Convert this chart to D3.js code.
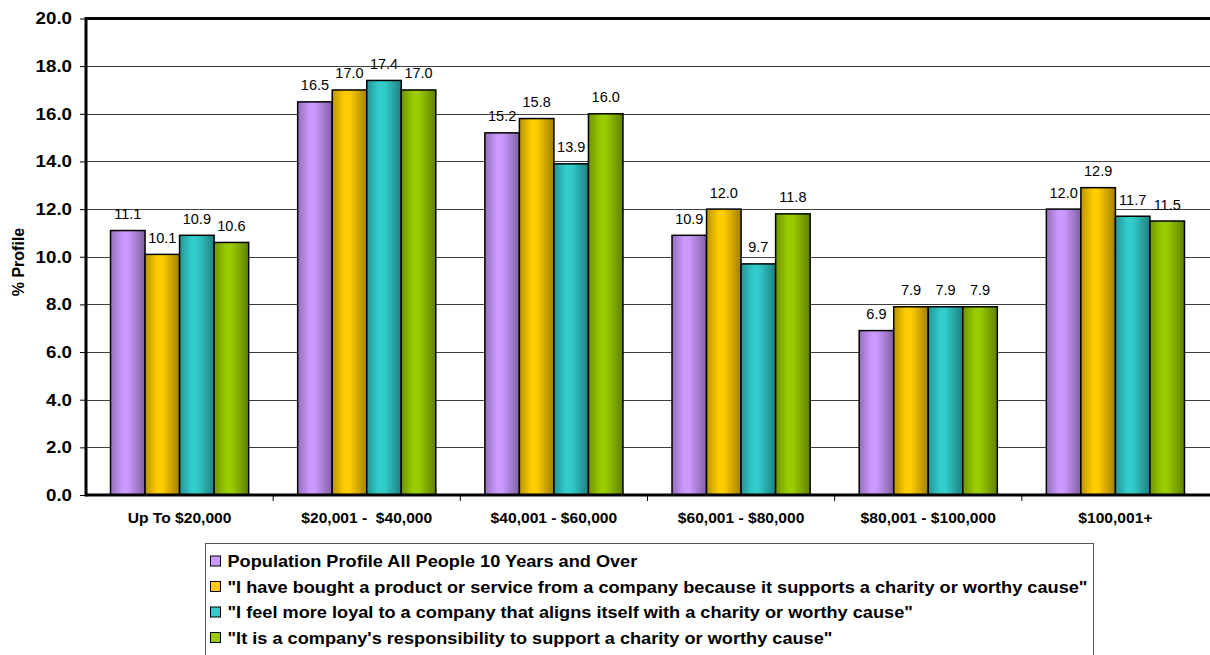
<!DOCTYPE html>
<html>
<head>
<meta charset="utf-8">
<script src="https://cdn.jsdelivr.net/npm/d3@7"></script>
<style>
  body { margin: 0; background: #fff; }
  svg { display: block; font-family: "Liberation Sans", Arial, sans-serif; }
</style>
</head>
<body>
<div id="chart"></div>
<script>
// categories (income brackets)
const categories = ['Up To $20,000', '$20,001 -  $40,000', '$40,001 - $60,000',
    '$60,001 - $80,000', '$80,001 - $100,000', '$100,001+'];

const seriesNames = [
    'Population Profile All People 10 Years and Over',
    '"I have bought a product or service from a company because it supports a charity or worthy cause"',
    '"I feel more loyal to a company that aligns itself with a charity or worthy cause"',
    '"It is a company\'s responsibility to support a charity or worthy cause"'
];

const population = [11.1, 16.5, 15.2, 10.9, 6.9, 12.0];
const bought = [10.1, 17.0, 15.8, 12.0, 7.9, 12.9];
const loyal = [10.9, 17.4, 13.9, 9.7, 7.9, 11.7];
const responsibility = [10.6, 17.0, 16.0, 11.8, 7.9, 11.5];

const yTicks = [0, 2, 4, 6, 8, 10, 12, 14, 16, 18, 20];
const colors = ['#CC99FF', '#FFCC00', '#33CCCC', '#99CC00'];

const allSeries = [population, bought, loyal, responsibility];

const width = 1210;
const height = 655;
const plot = { left: 86, right: 1209, top: 18.5, bottom: 495 };

const svg = d3.select('#chart')
    .append('svg')
    .attr('width', width)
    .attr('height', height);

// gradients for the bars (cylinder-like shading)
const defs = svg.append('defs');
colors.forEach((c, i) => {
    const g = defs.append('linearGradient')
        .attr('id', 'grad' + i)
        .attr('x1', '0%').attr('x2', '100%')
        .attr('y1', '0%').attr('y2', '0%');
    const base = d3.color(c);
    g.append('stop').attr('offset', '0%').attr('stop-color', base.darker(0.9));
    g.append('stop').attr('offset', '35%').attr('stop-color', base);
    g.append('stop').attr('offset', '50%').attr('stop-color', base);
    g.append('stop').attr('offset', '100%').attr('stop-color', base.darker(1.3));
});

// scales
const xScale = d3.scaleBand()
    .domain(categories)
    .range([plot.left, plot.right])
    .padding(0);

const xInner = d3.scaleBand()
    .domain(d3.range(allSeries.length))
    .range([0, xScale.bandwidth()])
    .paddingInner(0)
    .paddingOuter(0.71);

const yScale = d3.scaleLinear()
    .domain([0, 20])
    .range([plot.bottom, plot.top]);

// gridlines
svg.append('g')
    .selectAll('line')
    .data(yTicks.filter(t => t > 0 && t < 20))
    .join('line')
    .attr('x1', plot.left)
    .attr('x2', width)
    .attr('y1', d => Math.round(yScale(d)) + 0.5)
    .attr('y2', d => Math.round(yScale(d)) + 0.5)
    .attr('stroke', '#404040')
    .attr('stroke-width', 1);

// top border
svg.append('line')
    .attr('x1', plot.left).attr('x2', width)
    .attr('y1', yScale(20)).attr('y2', yScale(20))
    .attr('stroke', '#000').attr('stroke-width', 3);

// bars
const groups = svg.append('g')
    .selectAll('g')
    .data(allSeries)
    .join('g');

groups.selectAll('rect')
    .data((vals, si) => vals.map((v, ci) => ({ v, ci, si })))
    .join('rect')
    .attr('x', d => xScale(categories[d.ci]) + xInner(d.si))
    .attr('y', d => yScale(d.v))
    .attr('width', xInner.bandwidth())
    .attr('height', d => yScale(0) - yScale(d.v))
    .attr('fill', d => `url(#grad${d.si})`)
    .attr('stroke', '#000')
    .attr('stroke-width', 1.5);

// value labels
groups.selectAll('text')
    .data((vals, si) => vals.map((v, ci) => ({ v, ci, si })))
    .join('text')
    .attr('x', d => xScale(categories[d.ci]) + xInner(d.si) + xInner.bandwidth() / 2)
    .attr('y', d => yScale(d.v) - 11.5)
    .attr('text-anchor', 'middle')
    .style('font-size', '14.5px')
    .attr('fill', '#000')
    .text(d => d.v.toFixed(1));

// y axis
const yAxis = d3.axisLeft(yScale)
    .tickValues(yTicks)
    .tickFormat(d3.format('.1f'))
    .tickSize(6)
    .tickPadding(7);

const yG = svg.append('g')
    .attr('transform', `translate(${plot.left}, 0)`)
    .call(yAxis);
yG.select('.domain').remove();
yG.selectAll('.tick line').attr('stroke', '#000');
yG.selectAll('.tick text')
    .attr('x', 0)
    .attr('transform', 'translate(-14, 0) scale(1.1, 1)')
    .style('font-size', '17px')
    .style('font-weight', 'bold')
    .style('font-family', '"Liberation Sans", Arial, sans-serif')
    .attr('fill', '#000');

svg.append('line')
    .attr('x1', plot.left).attr('x2', plot.left)
    .attr('y1', plot.top - 1.5).attr('y2', plot.bottom + 1.5)
    .attr('stroke', '#000').attr('stroke-width', 3);

// x axis
const xAxis = d3.axisBottom(xScale).tickSize(0).tickPadding(17);
const xG = svg.append('g')
    .attr('transform', `translate(0, ${plot.bottom})`)
    .call(xAxis);
xG.select('.domain').remove();
xG.selectAll('.tick text')
    .attr('transform', 'scale(1.04, 1)')
    .style('font-size', '15px')
    .style('font-weight', 'bold')
    .style('font-family', '"Liberation Sans", Arial, sans-serif')
    .style('white-space', 'pre')
    .attr('fill', '#000');

// x tick marks at category boundaries
svg.append('g')
    .selectAll('line')
    .data(categories.slice(1))
    .join('line')
    .attr('x1', d => xScale(d)).attr('x2', d => xScale(d))
    .attr('y1', plot.bottom).attr('y2', plot.bottom + 6)
    .attr('stroke', '#000');

svg.append('line')
    .attr('x1', plot.left).attr('x2', width)
    .attr('y1', plot.bottom).attr('y2', plot.bottom)
    .attr('stroke', '#000').attr('stroke-width', 3);

// y axis title
svg.append('text')
    .attr('transform', 'rotate(-90)')
    .attr('x', -262)
    .attr('y', 24)
    .attr('text-anchor', 'middle')
    .style('font-size', '16px')
    .style('font-weight', 'bold')
    .text('% Profile');

// legend
const legend = svg.append('g').attr('transform', 'translate(205.5, 543.5)');
legend.append('rect')
    .attr('width', 888)
    .attr('height', 130)
    .attr('fill', '#fff')
    .attr('stroke', '#555')
    .attr('stroke-width', 1);

const items = legend.selectAll('g.item')
    .data(seriesNames)
    .join('g')
    .attr('class', 'item')
    .attr('transform', (d, i) => `translate(0, ${17.5 + i * 25.5})`);

items.append('rect')
    .attr('x', 5)
    .attr('y', -5)
    .attr('width', 10)
    .attr('height', 10)
    .attr('fill', (d, i) => colors[i])
    .attr('stroke', '#000')
    .attr('stroke-width', 1);

items.append('text')
    .attr('transform', 'translate(22, 6) scale(1.136, 1)')
    .style('font-size', '16px')
    .style('font-weight', 'bold')
    .text(d => d);
</script>
</body>
</html>
